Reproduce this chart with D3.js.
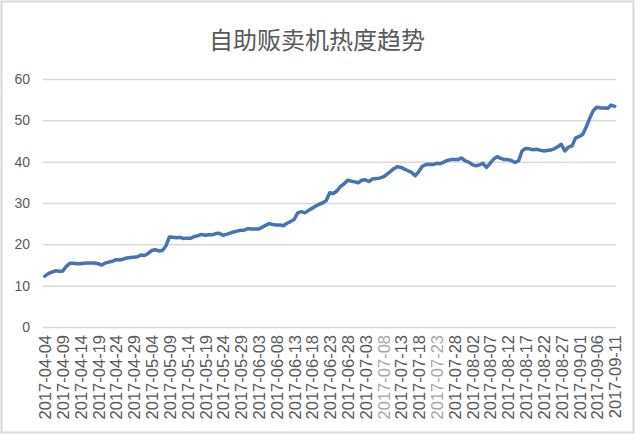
<!DOCTYPE html>
<html>
<head>
  <meta charset="utf-8">
  <script src="https://d3js.org/d3.v7.min.js"></script>
  <style>
    body { margin: 0; padding: 0; background: #ffffff; }
    #chart { width: 640px; height: 435px; position: relative; }
    .title {
      font-family: "Noto Sans CJK SC", sans-serif;
      font-size: 24px;
      fill: #595959;
    }
    .axis text {
      font-family: "Liberation Sans", Arial, sans-serif;
      fill: #595959;
    }
    .axis .domain { display: none; }
  </style>
</head>
<body>
  <div id="chart"></div>
  <script>
    // chart size
    var width = 640;
    var height = 435;
    var margin = {top: 79, left: 43, right: 24, bottom: 108};

    // data: daily index from 2017-04-04 to 2017-09-11
    var startDay = "2017-04-04";
    var endDay = "2017-09-11";
    var values = [
      12.3, 12.9, 13.3, 13.6, 13.5, 13.5, 14.6, 15.4, 15.4, 15.3,
      15.3, 15.4, 15.5, 15.5, 15.5, 15.3, 15.0, 15.5, 15.7, 15.9,
      16.3, 16.2, 16.4, 16.7, 16.8, 16.9, 17.0, 17.4, 17.3, 17.8,
      18.5, 18.7, 18.4, 18.5, 19.6, 21.8, 21.7, 21.6, 21.7, 21.4,
      21.5, 21.5, 21.9, 22.1, 22.4, 22.2, 22.3, 22.3, 22.6, 22.7,
      22.2, 22.4, 22.7, 23.0, 23.2, 23.4, 23.4, 23.8, 23.7, 23.7,
      23.7, 24.1, 24.6, 25.0, 24.8, 24.7, 24.7, 24.5, 25.1, 25.5,
      26.0, 27.6, 27.9, 27.6, 28.2, 28.7, 29.2, 29.7, 30.0, 30.6,
      32.5, 32.3, 32.9, 34.0, 34.6, 35.5, 35.3, 35.1, 34.9, 35.5,
      35.6, 35.2, 35.8, 35.9, 36.0, 36.3, 36.9, 37.6, 38.3, 38.8,
      38.6, 38.2, 37.8, 37.4, 36.6, 37.6, 38.9, 39.3, 39.4, 39.3,
      39.6, 39.5, 39.9, 40.3, 40.5, 40.5, 40.5, 40.9, 40.2, 39.9,
      39.3, 39.0, 39.2, 39.6, 38.6, 39.6, 40.6, 41.2, 40.8, 40.5,
      40.5, 40.3, 39.8, 40.2, 42.6, 43.2, 43.1, 42.9, 43.0, 42.8,
      42.6, 42.7, 42.8, 43.1, 43.6, 44.2, 42.6, 43.5, 43.8, 45.7,
      46.1, 46.6, 48.4, 50.5, 52.4, 53.2, 53.0, 53.0, 52.9, 53.7,
      53.4
    ];
    var yTicks = [0, 10, 20, 30, 40, 50, 60];
    var labelEvery = 5;
    var dimLabels = ["2017-07-08", "2017-07-23"];

    var fmt = d3.timeFormat("%Y-%m-%d");
    var parse = d3.timeParse("%Y-%m-%d");
    var days = d3.timeDay.range(parse(startDay), d3.timeDay.offset(parse(endDay), 1)).map(fmt);
    var series = days.map(function(d, i) { return {day: d, value: values[i]}; });
    var xLabels = days.filter(function(d, i) { return i % labelEvery === 0; });

    var svg = d3.select("#chart")
      .append("svg")
      .attr("width", width)
      .attr("height", height);

    // frame
    svg.append("rect")
      .attr("x", 1.5)
      .attr("y", 1.5)
      .attr("width", 632)
      .attr("height", 431)
      .attr("fill", "#ffffff")
      .attr("stroke", "#d9d9d9")
      .attr("stroke-width", 2);

    /*
    SCALES
    */
    var xScale = d3.scalePoint()
      .domain(days)
      .range([margin.left, width - margin.right + 0.5])
      .padding(0.5);

    var yScale = d3.scaleLinear()
      .domain([0, 60])
      .range([height - margin.bottom, margin.top]);

    /*
    AXES + GRID
    */
    var yAxis = svg.append("g")
      .attr("class", "axis")
      .attr("transform", `translate(${margin.left},0)`)
      .call(d3.axisLeft(yScale)
        .tickValues(yTicks)
        .tickSize(-(width - margin.right - margin.left))
        .tickPadding(13));
    yAxis.selectAll("line")
      .attr("stroke", "#d9d9d9")
      .attr("stroke-width", 1.5);
    yAxis.selectAll("text")
      .style("font-size", "14px");

    var xAxis = svg.append("g")
      .attr("class", "axis")
      .attr("transform", `translate(0,${height - margin.bottom})`)
      .call(d3.axisBottom(xScale).tickValues(xLabels).tickSize(0));
    xAxis.selectAll("text")
      .attr("transform", "rotate(-90)")
      .attr("x", -8)
      .attr("y", 0)
      .attr("dy", "0.36em")
      .attr("text-anchor", "end")
      .style("font-size", "16.5px")
      .style("fill", function(d) { return dimLabels.indexOf(d) >= 0 ? "#a6a6a6" : "#595959"; });

    /*
    LINE
    */
    var line = d3.line()
      .x(function(d) { return xScale(d.day); })
      .y(function(d) { return yScale(d.value); });

    svg.append("path")
      .datum(series)
      .attr("d", line)
      .attr("fill", "none")
      .attr("stroke", "#4674b3")
      .attr("stroke-width", 3.5)
      .attr("stroke-linejoin", "round")
      .attr("stroke-linecap", "round");

    /*
    TITLE
    */
    svg.append("text")
      .attr("class", "title")
      .attr("x", width / 2 - 3)
      .attr("y", 49)
      .attr("text-anchor", "middle")
      .text("自助贩卖机热度趋势");
  </script>
</body>
</html>
